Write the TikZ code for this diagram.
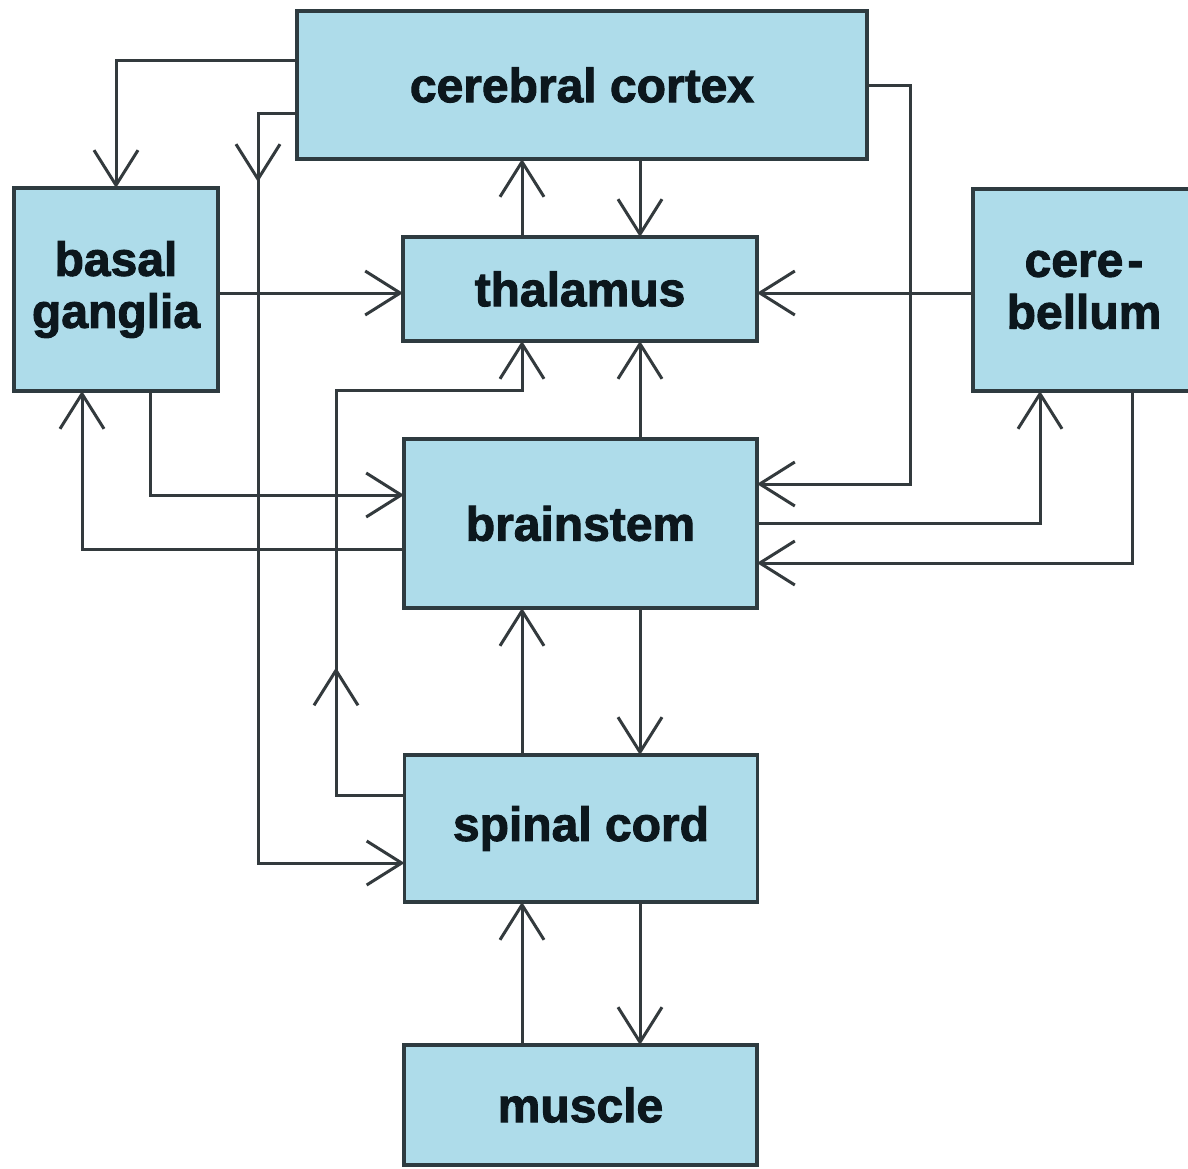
\documentclass[tikz,border=0pt]{standalone}
\usepackage{fontspec}
\setmainfont{Liberation Sans}[BoldFeatures={FakeBold=2}]
\usetikzlibrary{arrows.meta,decorations.markings}
\definecolor{boxfill}{HTML}{AEDCEA}
\definecolor{boxline}{HTML}{2E3B40}
\definecolor{wire}{HTML}{333A3D}
\definecolor{txt}{HTML}{0C171D}
\tikzset{
  box/.style={draw=boxline, fill=boxfill, line width=3.5pt, inner sep=0pt, outer sep=0pt,
    align=center, text=txt, font=\bfseries\fontsize{48}{52}\selectfont},
  arr/.style={draw=wire, line width=3pt, -{Straight Barb[length=35pt,width=44pt]}},
  midtip/.style={postaction={decorate}, decoration={markings,
    mark=at position #1 with {\arrow{Straight Barb[length=35pt,width=44pt]}}}},
}
\begin{document}
\begin{tikzpicture}[x=1pt,y=-1pt]
\useasboundingbox (0,0) rectangle (1188,1169);
\fill[white] (-20,-20) rectangle (1260,1190);
% boxes
\node[box, minimum width=570pt, minimum height=148pt] (cortex) at (582,85) {cerebral cortex};
\node[box, minimum width=204pt, minimum height=203pt] (basal) at (116,289.5) {basal\\ganglia};
\node[box, minimum width=354pt, minimum height=104pt] (thal) at (580,289) {thalamus};
% cerebellum box runs past the right edge of the picture
\fill[boxfill, draw=boxline, line width=3.5pt] (973,189) rectangle (1240,391);
\node[box, draw=none, fill=none, minimum width=222pt, minimum height=202pt] (cereb) at (1084,290) {cere\kern4pt-\\bellum};
\node[box, minimum width=353pt, minimum height=169pt] (brain) at (580.5,523.5) {brainstem};
\node[box, minimum width=353pt, minimum height=147pt] (spinal) at (581,828.5) {spinal cord};
\node[box, minimum width=353pt, minimum height=120pt] (muscle) at (580.5,1105) {muscle};
% waypoints
\coordinate (w1) at (116,61);
\coordinate (w2) at (258,114);
\coordinate (w3) at (258,863);
\coordinate (xa) at (522,0);
\coordinate (xb) at (640,0);
\coordinate (yt) at (0,293);
\coordinate (w4) at (910,86);
\coordinate (w5) at (910,484);
\coordinate (w6) at (336,795);
\coordinate (w7) at (336,390);
\coordinate (w8) at (150,495);
\coordinate (w9) at (82,549);
\coordinate (w10) at (1040,523);
\coordinate (w11) at (1132,563);
% connectors
\draw[arr] (cortex.west |- w1) -| (basal.north);
\draw[arr, midtip=107pt] (cortex.west |- w2) -- (w2) -- (w3) -- (spinal.west |- w3);
\draw[arr] (thal.north -| xa) -- (cortex.south -| xa);
\draw[arr] (cortex.south -| xb) -- (thal.north -| xb);
\draw[arr] (basal.east |- yt) -- (thal.west |- yt);
\draw[arr] (cereb.west |- yt) -- (thal.east |- yt);
\draw[arr] (cortex.east |- w4) -| (w5) -- (brain.east |- w5);
\draw[arr] (brain.north -| xb) -- (thal.south -| xb);
\draw[arr, midtip=196pt] (spinal.west |- w6) -- (w6) -- (w7) -| (thal.south -| xa);
\draw[arr] (basal.south -| w8) |- (brain.west |- w8);
\draw[arr] (brain.west |- w9) -| (basal.south -| w9);
\draw[arr] (brain.east |- w10) -| (cereb.south -| w10);
\draw[arr] (cereb.south -| w11) |- (brain.east |- w11);
\draw[arr] (spinal.north -| xa) -- (brain.south -| xa);
\draw[arr] (brain.south -| xb) -- (spinal.north -| xb);
\draw[arr] (muscle.north -| xa) -- (spinal.south -| xa);
\draw[arr] (spinal.south -| xb) -- (muscle.north -| xb);
\end{tikzpicture}
\end{document}
